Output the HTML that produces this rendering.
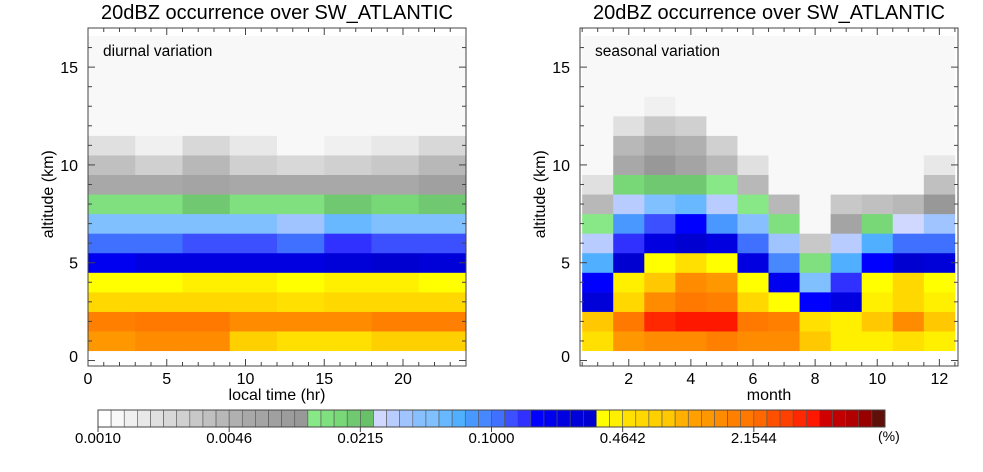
<!DOCTYPE html>
<html><head><meta charset="utf-8"><style>
body{margin:0;background:#fff;}
svg{display:block;font-family:"Liberation Sans",sans-serif;}
</style></head><body>
<svg id="s" width="983" height="472" viewBox="0 0 983 472"></svg>
<script>
const palette=["#ffffff","#f8f8f8","#f0f0f0","#e8e8e8","#e0e0e0","#d8d8d8","#d0d0d0","#c8c8c8","#c0c0c0","#b8b8b8","#b0b0b0","#a8a8a8","#a4a4a4","#a0a0a0","#9c9c9c","#989898",
"#88e888","#80e080","#78d878","#70c870","#68c068",
"#d0d8ff","#b8ccff","#a0c4ff","#88c0ff","#80c0ff","#68b8ff","#50b0ff","#4898ff","#4888ff","#4070ff","#3c50ff","#3030ff","#0000ff","#0000f0","#0000e0","#0000d8","#0000d0",
"#ffff00","#fff000","#ffe000","#ffd800","#ffd000","#ffc800","#ffb000","#ffa000","#ff9800","#ff8c00","#ff8000","#ff7800","#ff6800","#ff5000","#ff4000","#ff2800","#ff1800","#d00000","#c00000","#b00000","#980000","#601008"];
const cbLabels=["0.0010","0.0046","0.0215","0.1000","0.4642","2.1544"];
const diurnalHours=[0,3,6,9,12,15,18,21];
// occurrence level index per altitude row (bottom row first), per 3-hr bin
const diurnalLevels=[
[46,47,47,42,40,40,42,42],
[48,49,49,47,47,47,48,48],
[41,41,41,41,40,41,41,41],
[38,38,39,39,38,39,39,38],
[34,35,35,35,35,36,37,36],
[30,30,31,31,30,32,31,31],
[25,25,25,25,23,26,25,25],
[17,17,19,17,17,19,18,19],
[11,11,12,11,11,11,11,13],
[8,6,9,6,5,6,7,9],
[4,2,5,3,1,2,3,5],
[1,1,1,1,1,1,1,1],[1,1,1,1,1,1,1,1],[1,1,1,1,1,1,1,1],[1,1,1,1,1,1,1,1],[1,1,1,1,1,1,1,1],[1,1,1,1,1,1,1,1]];
const months=[1,2,3,4,5,6,7,8,9,10,11,12];
const seasonalLevels=[
[40,46,47,47,48,47,47,43,39,39,40,39],
[43,49,53,54,54,49,48,40,39,43,47,43],
[36,41,47,49,48,41,38,33,35,39,41,39],
[33,39,43,47,46,38,34,25,32,38,41,38],
[27,37,38,40,38,35,29,17,27,33,37,36],
[22,32,35,37,35,30,23,7,22,27,30,30],
[16,28,31,33,28,24,17,1,12,18,21,23],
[9,22,25,26,22,16,9,1,7,8,9,15],
[4,18,19,19,16,9,1,1,1,1,1,8],
[1,11,15,12,9,4,1,1,1,1,1,3],
[1,9,11,10,6,1,1,1,1,1,1,1],
[1,4,7,6,1,1,1,1,1,1,1,1],
[1,1,2,1,1,1,1,1,1,1,1,1],
[1,1,1,1,1,1,1,1,1,1,1,1],[1,1,1,1,1,1,1,1,1,1,1,1],[1,1,1,1,1,1,1,1,1,1,1,1],[1,1,1,1,1,1,1,1,1,1,1,1]];
const rowBottoms=[0.5,1.5,2.5,3.5,4.5,5.5,6.5,7.5,8.5,9.5,10.5,11.5,12.5,13.5,14.5,15.5,16.5];
const yTicks=[0,5,10,15];
const hourTicks=[0,5,10,15,20];
const monthTicks=[2,4,6,8,10,12];

const S=document.getElementById('s');
const NS="http://www.w3.org/2000/svg";
function mk(t,a,p){const e=document.createElementNS(NS,t);for(const k in a)e.setAttribute(k,a[k]);(p||S).appendChild(e);return e;}
const yTop=28,yBot=366,yMin=-0.28,yMax=17;
function Y(v){return yBot-(v-yMin)/(yMax-yMin)*(yBot-yTop);}
const capTop=16.6;

function panel(name,x0,x1,xmin,xmax,cols,colW,levels,xt,minorStep,xTitle,label){
  const X=v=>x0+(v-xmin)/(xmax-xmin)*(x1-x0);
  const g=mk('g',{});
  
  
  const bg=mk('rect',{x:x0,y:yTop,width:x1-x0,height:yBot-yTop,fill:'#fff'},g);
  
  
  levels.forEach((row,ri)=>{
    const b=rowBottoms[ri],t=Math.min(b+1,capTop);
    if(b>=capTop)return;
    row.forEach((lv,ci)=>{
      const xa=X(cols[ci]),xb=X(cols[ci]+colW);
      const r=mk('rect',{x:xa,y:Y(t),width:xb-xa+0.3,height:Y(b)-Y(t)+0.3,fill:palette[lv]},g);
      
      
    });
  });
  const fr=mk('rect',{x:x0,y:yTop,width:x1-x0,height:yBot-yTop,fill:'none',stroke:'#444','stroke-width':1},g);
  
  
  for(let v=0;v<=17;v++){const L=v%5==0?7:4;const y=Y(v);
    mk('line',{x1:x0,x2:x0+L,y1:y,y2:y,stroke:'#444'},g);mk('line',{x1:x1,x2:x1-L,y1:y,y2:y,stroke:'#444'},g);}
  yTicks.forEach(v=>{const t=mk('text',{x:x0-10,y:Math.min(Y(v)+6,362),'text-anchor':'end','font-size':16,fill:'#000'},g);t.textContent=v;
    });
  for(let v=Math.ceil(xmin/minorStep)*minorStep;v<=xmax+1e-9;v+=minorStep){
    const major=xt.some(m=>Math.abs(m-v)<1e-6);const L=major?7:4;const x=X(v);
    mk('line',{x1:x,x2:x,y1:yBot,y2:yBot-L,stroke:'#444'},g);mk('line',{x1:x,x2:x,y1:yTop,y2:yTop+L,stroke:'#444'},g);}
  xt.forEach(v=>{const t=mk('text',{x:X(v),y:384,'text-anchor':'middle','font-size':16,fill:'#000'},g);t.textContent=v;
    });
  const cx=(x0+x1)/2;
  let t=mk('text',{x:cx,y:19,'text-anchor':'middle','font-size':20,fill:'#000'},g);t.textContent='20dBZ occurrence over SW_ATLANTIC';
  
  t=mk('text',{x:cx,y:400,'text-anchor':'middle','font-size':16,fill:'#000'},g);t.textContent=xTitle;
  
  t=mk('text',{x:0,y:0,transform:`translate(${x0-35},${Y(8.5)}) rotate(-90)`,'text-anchor':'middle','font-size':16,fill:'#000'},g);t.textContent='altitude (km)';
  
  t=mk('text',{x:x0+15,y:56,'font-size':15.5,fill:'#000'},g);t.textContent=label;
  
}
panel('diurnal',88,466,0,24,diurnalHours,3,diurnalLevels,hourTicks,1,'local time (hr)','diurnal variation');
panel('seasonal',580,958,0.43,12.6,months.map(m=>m-0.5),1,seasonalLevels,monthTicks,0.5,'month','seasonal variation');

const cb=mk('g',{});


const cbx0=98,cbx1=885,cby=410,cbh=17,sw=(cbx1-cbx0)/palette.length;
palette.forEach((c,i)=>{const r=mk('rect',{x:cbx0+i*sw,y:cby,width:sw,height:cbh,fill:c,stroke:'#555','stroke-width':0.6},cb);
  });
mk('rect',{x:cbx0,y:cby,width:cbx1-cbx0,height:cbh,fill:'none',stroke:'#444'},cb);
cbLabels.forEach((l,i)=>{const x=cbx0+i*10*sw;mk('line',{x1:x,x2:x,y1:cby+cbh,y2:cby+cbh+5,stroke:'#444'},cb);
  const t=mk('text',{x:x,y:443,'text-anchor':'middle','font-size':15,fill:'#000'},cb);t.textContent=l;
  });
const u=mk('text',{x:878,y:441,'font-size':14,fill:'#000'},cb);u.textContent='(%)';

</script>
</body></html>
